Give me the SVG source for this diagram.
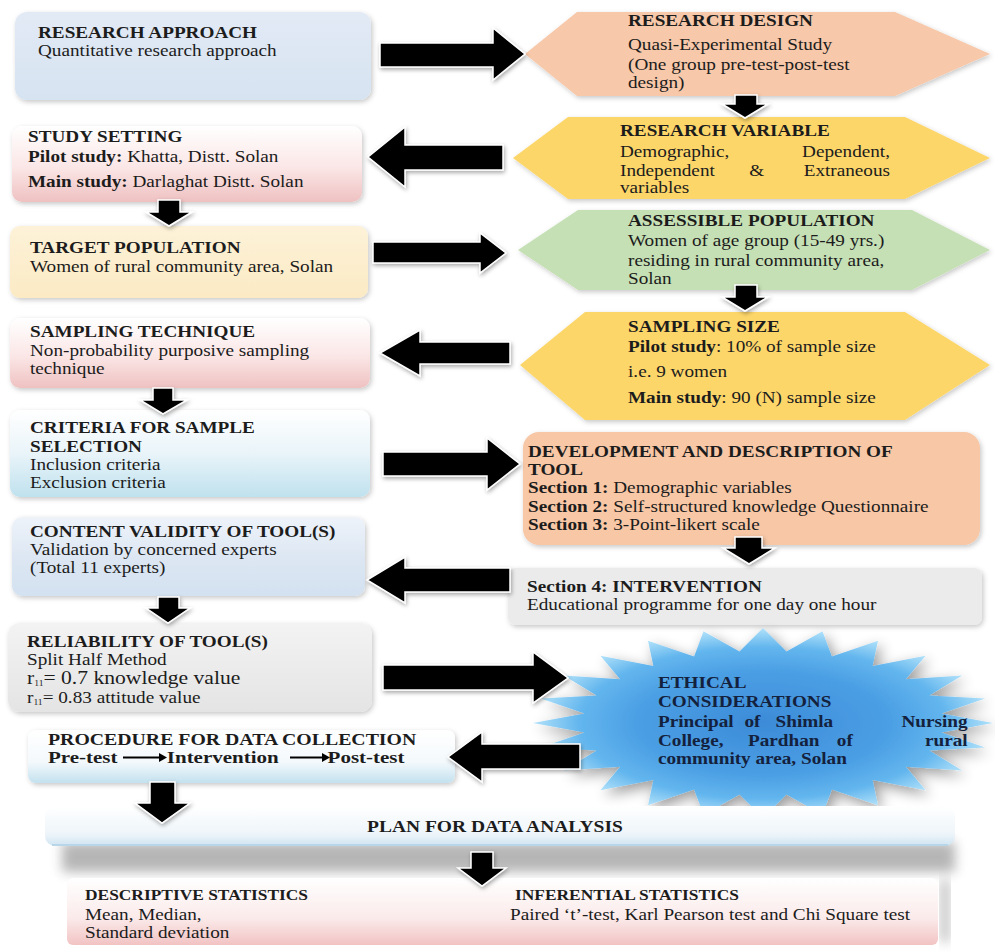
<svg xmlns="http://www.w3.org/2000/svg" width="995" height="952" viewBox="0 0 995 952">
<defs>
<style>
text{font-family:"Liberation Serif","Times New Roman",serif;font-size:16px;fill:#1c1c1c}
.b{font-weight:bold}
.arr{fill:#000;stroke:#fff;stroke-width:1.5;filter:url(#ash)}
.box{filter:url(#sh)}
.eth{fill:#14213d;font-weight:bold}
.bt{font-size:14.5px;font-weight:bold}
.bb{font-size:16px}
</style>
<linearGradient id="gApp" x1="0" y1="0" x2="0" y2="1"><stop offset="0" stop-color="#e2eaf5"/><stop offset="1" stop-color="#d6e3f1"/></linearGradient>
<linearGradient id="gBlue2" x1="0" y1="0" x2="0" y2="1"><stop offset="0" stop-color="#eef3fa"/><stop offset="0.5" stop-color="#dde7f3"/><stop offset="1" stop-color="#d3e1f0"/></linearGradient>
<linearGradient id="gPink" x1="0" y1="0" x2="0" y2="1"><stop offset="0" stop-color="#ffffff"/><stop offset="0.55" stop-color="#fbe6e6"/><stop offset="1" stop-color="#efc1c1"/></linearGradient>
<linearGradient id="gCream" x1="0" y1="0" x2="0" y2="1"><stop offset="0" stop-color="#fdf2d8"/><stop offset="1" stop-color="#fbeac4"/></linearGradient>
<linearGradient id="gCyan" x1="0" y1="0" x2="0" y2="1"><stop offset="0" stop-color="#ffffff"/><stop offset="0.5" stop-color="#e9f4f9"/><stop offset="1" stop-color="#bfe1ee"/></linearGradient>
<linearGradient id="gGrey" x1="0" y1="0" x2="0" y2="1"><stop offset="0" stop-color="#f3f3f3"/><stop offset="1" stop-color="#e4e4e4"/></linearGradient>
<linearGradient id="gProc" x1="0" y1="0" x2="0" y2="1"><stop offset="0" stop-color="#ffffff"/><stop offset="0.6" stop-color="#f4f9fc"/><stop offset="1" stop-color="#c3e1ef"/></linearGradient>
<linearGradient id="gPlan" x1="0" y1="0" x2="0" y2="1"><stop offset="0" stop-color="#ffffff"/><stop offset="0.7" stop-color="#eef5fa"/><stop offset="1" stop-color="#cfe4f1"/></linearGradient>
<linearGradient id="gPink2" x1="0" y1="0" x2="0" y2="1"><stop offset="0" stop-color="#ffffff"/><stop offset="0.6" stop-color="#fbeaea"/><stop offset="1" stop-color="#f2c3c3"/></linearGradient>
<radialGradient id="gStar" cx="0.5" cy="0.5" r="0.5"><stop offset="0" stop-color="#3c8bd8"/><stop offset="0.55" stop-color="#4b9fe4"/><stop offset="0.8" stop-color="#63b6ee"/><stop offset="1" stop-color="#b2e2fa"/></radialGradient>
<filter id="sh" x="-10%" y="-20%" width="120%" height="150%"><feDropShadow dx="1.5" dy="2" stdDeviation="2.5" flood-color="#000" flood-opacity="0.22"/></filter>
<filter id="ash" x="-20%" y="-30%" width="140%" height="160%"><feDropShadow dx="1" dy="2" stdDeviation="2" flood-color="#000" flood-opacity="0.35"/></filter>
<filter id="ssh" x="-10%" y="-15%" width="120%" height="135%"><feGaussianBlur in="SourceAlpha" stdDeviation="7"/><feOffset dx="4" dy="5"/><feComponentTransfer><feFuncA type="linear" slope="0.4"/></feComponentTransfer><feMerge><feMergeNode/><feMergeNode in="SourceGraphic"/></feMerge></filter>
<filter id="blur6" x="-5%" y="-50%" width="110%" height="200%"><feGaussianBlur stdDeviation="6"/></filter>
</defs>
<rect width="995" height="952" fill="#ffffff"/>

<g id="research-approach">
<rect x="15" y="12" width="356" height="88" rx="12" fill="url(#gApp)" class="box"/>
<g transform="translate(38 0) scale(1.2 1)"><text x="0" y="38" class="b">RESEARCH APPROACH</text><text x="0" y="56">Quantitative research approach</text></g>
</g>

<g id="research-design">
<polygon points="525,54 577,12 895,12 990,54 895,96 577,96" fill="#f7c8a9" class="box"/>
<g transform="translate(628 0) scale(1.2 1)"><text x="0" y="26" class="b">RESEARCH DESIGN</text><text x="0" y="50">Quasi-Experimental Study</text><text x="0" y="70">(One group pre-test-post-test</text><text x="0" y="88">design)</text></g>
</g>

<g id="research-variable">
<polygon points="513,158 568,117 905,117 990,158 905,199 568,199" fill="#fdd66a" class="box"/>
<g transform="translate(620 0) scale(1.2 1)"><text x="0" y="136" class="b">RESEARCH VARIABLE</text><text x="0" y="157">Demographic,</text><text x="225" y="157" text-anchor="end">Dependent,</text><text x="0" y="176">Independent</text><text x="114" y="176" text-anchor="middle">&amp;</text><text x="225" y="176" text-anchor="end">Extraneous</text><text x="0" y="193">variables</text></g>
</g>

<g id="study-setting">
<rect x="12" y="126" width="350" height="76" rx="10" fill="url(#gPink)" class="box"/>
<g transform="translate(28 0) scale(1.2 1)"><text x="0" y="142" class="b">STUDY SETTING</text><text x="0" y="162"><tspan class="b">Pilot study:</tspan> Khatta, Distt. Solan</text><text x="0" y="187"><tspan class="b">Main study:</tspan> Darlaghat Distt. Solan</text></g>
</g>

<g id="target-population">
<rect x="10" y="226" width="358" height="72" rx="10" fill="url(#gCream)" class="box"/>
<g transform="translate(30 0) scale(1.2 1)"><text x="0" y="253" class="b">TARGET POPULATION</text><text x="0" y="272">Women of rural community area, Solan</text></g>
</g>

<g id="assessible-population">
<polygon points="518,250 578,210 912,210 990,250 912,290 578,290" fill="#c6e0b5" class="box"/>
<g transform="translate(628 0) scale(1.2 1)"><text x="0" y="226" class="b">ASSESSIBLE  POPULATION</text><text x="0" y="246">Women of age group (15-49 yrs.)</text><text x="0" y="266">residing in rural community area,</text><text x="0" y="284">Solan</text></g>
</g>

<g id="sampling-technique">
<rect x="10" y="318" width="360" height="70" rx="10" fill="url(#gPink)" class="box"/>
<g transform="translate(30 0) scale(1.2 1)"><text x="0" y="337" class="b">SAMPLING TECHNIQUE</text><text x="0" y="356">Non-probability purposive sampling</text><text x="0" y="374">technique</text></g>
</g>

<g id="sampling-size">
<polygon points="520,365 585,312 905,312 990,365 905,420 585,420" fill="#fdd66a" class="box"/>
<g transform="translate(628 0) scale(1.2 1)"><text x="0" y="332" class="b">SAMPLING SIZE</text><text x="0" y="352"><tspan class="b">Pilot study</tspan>: 10% of sample size</text><text x="0" y="377">i.e. 9 women</text><text x="0" y="403"><tspan class="b">Main study</tspan>: 90 (N) sample size</text></g>
</g>

<g id="criteria">
<rect x="10" y="410" width="360" height="87" rx="10" fill="url(#gCyan)" class="box"/>
<g transform="translate(30 0) scale(1.2 1)"><text x="0" y="433" class="b">CRITERIA FOR SAMPLE</text><text x="0" y="452" class="b">SELECTION</text><text x="0" y="470">Inclusion criteria</text><text x="0" y="488">Exclusion criteria</text></g>
</g>

<g id="development-tool">
<rect x="523" y="432" width="457" height="113" rx="16" fill="#f7c7a6" class="box"/>
<g transform="translate(528 0) scale(1.2 1)"><text x="0" y="457" class="b">DEVELOPMENT AND DESCRIPTION OF</text><text x="0" y="475" class="b">TOOL</text><text x="0" y="493"><tspan class="b">Section 1:</tspan> Demographic variables</text><text x="0" y="512"><tspan class="b">Section 2:</tspan> Self-structured knowledge Questionnaire</text><text x="0" y="530"><tspan class="b">Section 3:</tspan> 3-Point-likert scale</text></g>
</g>

<g id="content-validity">
<rect x="12" y="517" width="353" height="79" rx="10" fill="url(#gBlue2)" class="box"/>
<g transform="translate(30 0) scale(1.2 1)"><text x="0" y="537" class="b">CONTENT VALIDITY OF TOOL(S)</text><text x="0" y="555">Validation by concerned experts</text><text x="0" y="573">(Total 11 experts)</text></g>
</g>

<g id="intervention">
<rect x="508" y="568" width="474" height="57" rx="8" fill="#ebebeb" class="box"/>
<g transform="translate(527 0) scale(1.2 1)"><text x="0" y="592" class="b">Section 4: INTERVENTION</text><text x="0" y="610">Educational programme for one day one hour</text></g>
</g>

<g id="reliability">
<rect x="8" y="623" width="364" height="89" rx="12" fill="url(#gGrey)" class="box"/>
<g transform="translate(27 0) scale(1.2 1)"><text x="0" y="647" class="b">RELIABILITY OF TOOL(S)</text><text x="0" y="665">Split Half Method</text><text x="0" y="684" style="font-size:18px">r<tspan style="font-size:8px" dy="2">11</tspan><tspan dy="-2">= 0.7 knowledge value</tspan></text><text x="0" y="703">r<tspan style="font-size:8px" dy="2">11</tspan><tspan dy="-2">= 0.83 attitude value</tspan></text></g>
</g>

<g id="ethical-considerations">
<polygon filter="url(#ssh)" fill="url(#gStar)" points="993,723 941.5,732.4 985.2,747.6 929.3,750.6 962.2,770.5 905.8,766.8 925.6,790.2 872.6,780.1 878,805.3 831.9,789.5 822.5,814.8 786.5,794.4 763,818 739.5,794.4 703.5,814.8 694.1,789.5 648,805.3 653.4,780.1 600.4,790.2 620.2,766.8 563.8,770.5 596.7,750.6 540.8,747.6 584.5,732.4 533,723 584.5,713.6 540.8,698.4 596.7,695.5 563.8,675.5 620.2,679.2 600.4,655.8 653.4,665.9 648,640.7 694.1,656.5 703.5,631.2 739.5,651.6 763,628 786.5,651.6 822.5,631.2 831.9,656.5 878,640.7 872.6,665.9 925.6,655.8 905.8,679.2 962.2,675.5 929.3,695.5 985.2,698.4 941.5,713.6"/>
<g transform="translate(658 0) scale(1.2 1)"><text x="0" y="688" class="eth">ETHICAL</text><text x="0" y="707" class="eth">CONSIDERATIONS</text><text x="0" y="727" class="eth">Principal</text><text x="72" y="727" class="eth">of</text><text x="98" y="727" class="eth">Shimla</text><text x="258" y="727" class="eth" text-anchor="end">Nursing</text><text x="0" y="746" class="eth">College,</text><text x="75" y="746" class="eth">Pardhan</text><text x="149" y="746" class="eth">of</text><text x="258" y="746" class="eth" text-anchor="end">rural</text><text x="0" y="764" class="eth">community area, Solan</text></g>
</g>

<g id="procedure">
<rect x="28" y="730" width="427" height="53" rx="8" fill="url(#gProc)" class="box"/>
<g transform="translate(48 0) scale(1.2 1)"><text x="0" y="745" class="b" style="font-size:16.5px">PROCEDURE FOR DATA COLLECTION</text><text x="0" y="763" class="b" style="font-size:17.5px">Pre-test</text><text x="99" y="763" class="b" style="font-size:17.5px">Intervention</text><text x="233" y="763" class="b" style="font-size:17.5px">Post-test</text></g>
<path d="M123 757.5 H160 M290 757.5 H323" stroke="#000" stroke-width="2.2" fill="none"/>
<polygon points="159,753 167,757.5 159,762" fill="#000"/>
<polygon points="322,753 330,757.5 322,762" fill="#000"/>
</g>

<g id="plan-data-analysis">
<rect x="62" y="842" width="893" height="30" fill="#7a7a7a" opacity="0.55" filter="url(#blur6)"/>
<rect x="45" y="806" width="910" height="40" rx="10" fill="url(#gPlan)"/>
<path d="M52 845 H948" stroke="#b9d6e8" stroke-width="2"/>
<g transform="translate(367 0) scale(1.22 1)"><text x="0" y="832" class="b">PLAN FOR DATA ANALYSIS</text></g>
</g>

<g id="statistics">
<rect x="940" y="880" width="10" height="62" fill="#888" opacity="0.5" filter="url(#blur6)"/>
<rect x="67" y="878" width="871" height="67" rx="6" fill="url(#gPink2)"/>
<g transform="translate(85 0) scale(1.2 1)"><text x="0" y="900" class="bt">DESCRIPTIVE STATISTICS</text><text x="0" y="920" class="bb">Mean, Median,</text><text x="0" y="938" class="bb">Standard deviation</text></g>
<g transform="translate(515 0) scale(1.2 1)"><text x="0" y="900" class="bt">INFERENTIAL STATISTICS</text></g>
<g transform="translate(510 0) scale(1.2 1)"><text x="0" y="920" class="bb">Paired ‘t’-test, Karl Pearson test and Chi Square test</text></g>
</g>

<g id="connectors">
<polygon class="arr" points="380,43 493,43 493,28 525,54 493,80 493,67 380,67"/>
<polygon class="arr" points="368,157 405,127 405,145 503,145 503,170 405,170 405,187"/>
<polygon class="arr" points="735,95 757,95 757,104 768,104 745,118 722,104 735,104"/>
<polygon class="arr" points="158,200 180,200 180,212 192,212 169,226 146,212 158,212"/>
<polygon class="arr" points="373,242 480,242 480,233 506,253 480,273 480,263 373,263"/>
<polygon class="arr" points="735,285 757,285 757,297 768,297 745,311 722,297 735,297"/>
<polygon class="arr" points="380,353 420,330 420,342 510,342 510,364 420,364 420,376"/>
<polygon class="arr" points="153,388 173,388 173,400 187,400 163,414 140,400 153,400"/>
<polygon class="arr" points="383,452 487,452 487,438 520,464 487,490 487,476 383,476"/>
<polygon class="arr" points="735,537 762,537 762,548 775,548 749,564 723,548 735,548"/>
<polygon class="arr" points="367,580 405,557 405,568 510,568 510,592 405,592 405,603"/>
<polygon class="arr" points="158,597 179,597 179,608 190,608 168,623 146,608 158,608"/>
<polygon class="arr" points="383,665 533,665 533,652 568,678 533,703 533,690 383,690"/>
<polygon class="arr" points="448,757 482,732 482,744 580,744 580,769 482,769 482,782"/>
<polygon class="arr" points="150,782 175,782 175,803 190,803 162,823 135,803 150,803"/>
<polygon class="arr" points="471,852 493,852 493,868 506,868 482,886 458,868 471,868"/>
</g>
</svg>
